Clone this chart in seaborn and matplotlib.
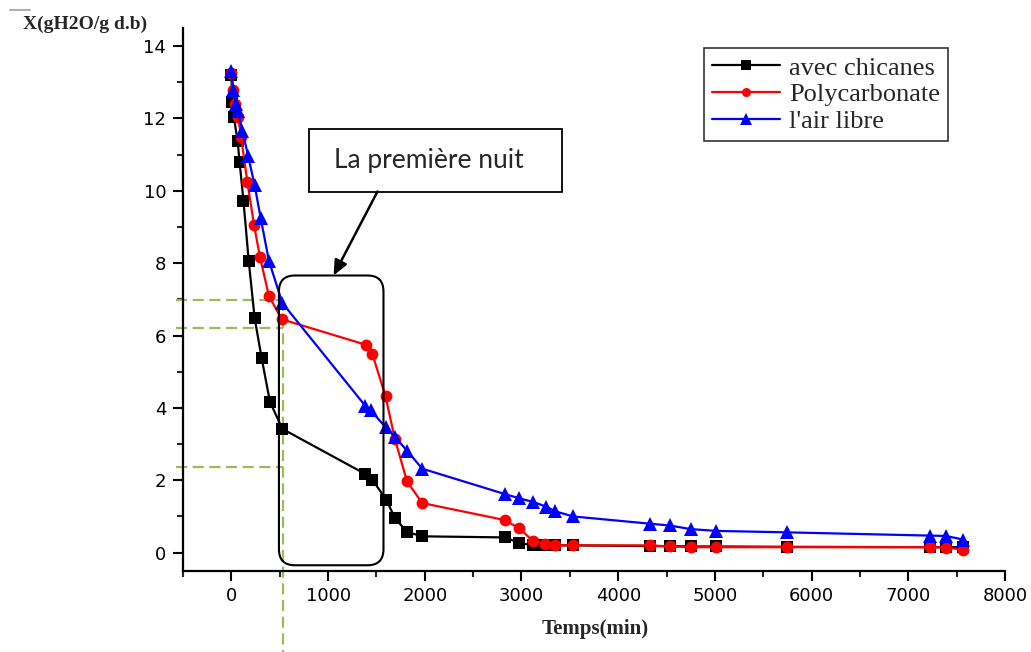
import numpy as np
import pandas as pd
import seaborn as sns
import matplotlib
matplotlib.use("Agg")
import matplotlib.pyplot as plt
from matplotlib.lines import Line2D
from matplotlib.patches import FancyBboxPatch, Rectangle

# ---------------- data ----------------
series_names = ["avec chicanes", "Polycarbonate", "l'air libre"]

t_chicanes = [0, 10, 25, 65, 85, 125, 180, 241, 313, 399, 527, 1387, 1457, 1604, 1690,
              1816, 1973, 2826, 2978, 3120, 3247, 3350, 3533, 4324, 4531, 4749, 5013,
              5744, 7224, 7389, 7568]
x_chicanes = [13.2, 12.45, 12.05, 11.37, 10.8, 9.73, 8.05, 6.48, 5.38, 4.17, 3.42, 2.17,
              2.02, 1.45, 0.96, 0.57, 0.45, 0.42, 0.27, 0.2, 0.2, 0.2, 0.2, 0.18, 0.18,
              0.17, 0.17, 0.16, 0.15, 0.15, 0.15]

t_poly = [0, 15, 40, 70, 100, 165, 235, 296, 388, 520, 1397, 1457, 1594, 1690, 1816,
          1973, 2826, 2978, 3120, 3247, 3350, 3533, 4324, 4531, 4749, 5013, 5744, 7224,
          7389, 7568]
x_poly = [13.25, 12.8, 12.4, 12.05, 11.5, 10.25, 9.05, 8.17, 7.1, 6.45, 5.74, 5.5, 4.32,
          3.15, 1.97, 1.37, 0.9, 0.67, 0.32, 0.25, 0.2, 0.2, 0.2, 0.17, 0.15, 0.15, 0.15,
          0.15, 0.14, 0.08]

t_air = [0, 20, 45, 70, 115, 175, 241, 303, 388, 527, 1387, 1440, 1594, 1690, 1816, 1973,
         2826, 2978, 3120, 3257, 3350, 3533, 4324, 4531, 4749, 5013, 5744, 7224, 7389, 7568]
x_air = [13.3, 12.8, 12.4, 12.2, 11.65, 10.95, 10.15, 9.25, 8.07, 6.9, 4.05, 3.93, 3.47,
         3.2, 2.82, 2.32, 1.62, 1.5, 1.4, 1.27, 1.14, 1.0, 0.8, 0.75, 0.65, 0.6, 0.56,
         0.47, 0.46, 0.36]

x_ticks = [0, 1000, 2000, 3000, 4000, 5000, 6000, 7000, 8000]
y_ticks = [0, 2, 4, 6, 8, 10, 12, 14]

# guide lines (green dashes)
guide_t = 537
guide_levels = [6.97, 6.20, 2.38]

# ---------------- frame ----------------
df = pd.concat([
    pd.DataFrame({"t": t_chicanes, "X": x_chicanes, "serie": series_names[0]}),
    pd.DataFrame({"t": t_poly, "X": x_poly, "serie": series_names[1]}),
    pd.DataFrame({"t": t_air, "X": x_air, "serie": series_names[2]}),
], ignore_index=True)

colors = {series_names[0]: "black", series_names[1]: "#ff0000", series_names[2]: "#0000ff"}
markers = {series_names[0]: "s", series_names[1]: "o", series_names[2]: "^"}
msizes = {series_names[0]: 8, series_names[1]: 8.5, series_names[2]: 9.5}

sns.set_style("ticks")
plt.rcParams["font.family"] = ["DejaVu Sans"]

fig = plt.figure(figsize=(10.31, 6.52), dpi=100)
ax = fig.add_axes([0.1775, 0.1247, 0.7973, 0.8323])

for name in series_names:
    sub = df[df["serie"] == name]
    sns.lineplot(data=sub, x="t", y="X", ax=ax, color=colors[name], marker=markers[name],
                 markersize=msizes[name], markeredgewidth=0, linewidth=1.6,
                 estimator=None, sort=False, legend=False)

ax.set_xlim(-500, 8000)
ax.set_ylim(-0.5, 14.5)
ax.set_xticks(x_ticks)
ax.set_yticks(y_ticks)
ax.set_xticks(np.arange(-500, 8001, 500), minor=True)
ax.set_yticks(np.arange(0, 15, 1), minor=True)
ax.tick_params(axis="both", which="major", direction="out", length=7, width=1.5,
               labelsize=13, pad=5, colors="black")
ax.tick_params(axis="both", which="minor", direction="out", length=4, width=1.5)
for s in ["top", "right"]:
    ax.spines[s].set_visible(False)
for s in ["left", "bottom"]:
    ax.spines[s].set_linewidth(1.6)
    ax.spines[s].set_color("black")

ax.set_xlabel("")
ax.set_ylabel("")
fig.text(0.577, 0.036, "Temps(min)", ha="center", va="center", family="Liberation Serif",
         fontweight="bold", fontsize=15)
fig.text(0.022, 0.962, "X(gH2O/g d.b)", ha="left", va="center", family="Liberation Serif",
         fontweight="bold", fontsize=14)
fig.add_artist(Line2D([10 / 1031, 30 / 1031], [1 - 10 / 652, 1 - 10 / 652],
                      color="#b0b0b0", lw=1.5, transform=fig.transFigure))

# green dashed guides
green = "#9bbb59"
for lv in guide_levels:
    ax.plot([-575, guide_t], [lv, lv], color=green, lw=1.6, ls=(0, (5, 2.5)), clip_on=False, zorder=1)
ax.plot([guide_t, guide_t], [guide_levels[0], -2.8], color=green, lw=1.6, ls=(0, (5, 2.5)),
        clip_on=False, zorder=1)

# rounded box around the first night
x0, x1 = 492, 1573
y0, y1 = -0.35, 7.66
px_x = 10.33   # data units per pixel along x
px_y = 0.02763  # data units per pixel along y
box = FancyBboxPatch((x0, y0), x1 - x0, y1 - y0,
                     boxstyle="round,pad=0,rounding_size=%f" % (16 * px_x),
                     mutation_aspect=px_y / px_x, fill=False, edgecolor="black", lw=1.5,
                     zorder=2)
ax.add_patch(box)

# text box
rect = Rectangle((799, 9.98), 3423 - 799, 11.70 - 9.98, fill=False, edgecolor="black",
                 lw=1.3, clip_on=False, zorder=3)
ax.add_patch(rect)
ax.text(2038, 10.84, "La première nuit", ha="center", va="center", family="Lato",
        fontsize=19, zorder=4)
ax.annotate("", xy=(1057, 7.66), xytext=(1511, 9.98),
            arrowprops=dict(arrowstyle="-|>,head_length=0.9,head_width=0.4", color="black",
                            lw=1.8, shrinkA=0, shrinkB=0))

# legend
handles = [Line2D([], [], color=colors[n], marker=markers[n], markersize=6.5 if n != series_names[2] else 8,
                  markeredgewidth=0, lw=1.6) for n in series_names]
leg = ax.legend(handles, series_names, loc="upper right", bbox_to_anchor=(0.931, 0.963),
                borderaxespad=0, frameon=True, fancybox=False, edgecolor="black",
                prop={"family": "Liberation Serif", "size": 19}, handlelength=2.6,
                handletextpad=0.35, labelspacing=0.12, borderpad=0.3)
leg.get_frame().set_linewidth(1.2)

fig.savefig("out.png", dpi=100)
